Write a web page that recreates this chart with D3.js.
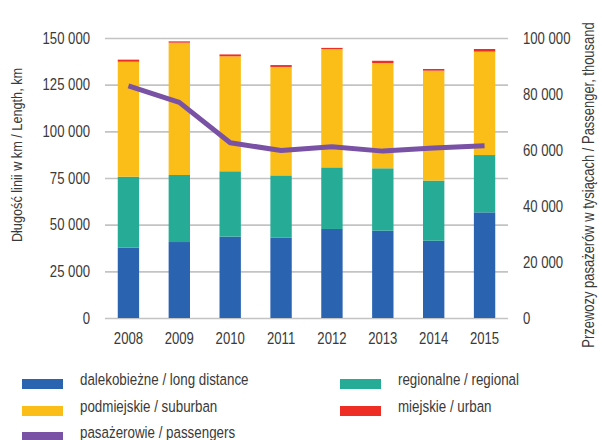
<!DOCTYPE html>
<html>
<head>
<meta charset="utf-8">
<script src="https://cdn.jsdelivr.net/npm/d3@7"></script>
<style>
  body { margin: 0; background: #fff; }
  text { font-family: "Liberation Sans", Arial, sans-serif; fill: #3a3a3a; }
</style>
</head>
<body>
<script>
//-----------------Data----------------

const years = ["2008", "2009", "2010", "2011", "2012", "2013", "2014", "2015"];
const longDistance = [37700, 40700, 43600, 43000, 47700, 46800, 41400, 56600];
const regional = [38000, 35900, 35000, 33400, 33000, 33400, 32200, 30700];
const suburban = [61600, 70900, 61600, 58100, 63400, 56400, 58900, 55400];
const urban = [1100, 700, 1000, 1000, 600, 1200, 900, 1400];
const passengers = [82900, 77000, 62600, 59800, 61200, 59600, 60700, 61500];

const leftTicks = [0, 25000, 50000, 75000, 100000, 125000, 150000];
const rightTicks = [0, 20000, 40000, 60000, 80000, 100000];

const seriesNames = ["dalekobieżne / long distance", "regionalne / regional", "podmiejskie / suburban", "miejskie / urban"];
const seriesColors = ["#2a64b0", "#26ab96", "#fbbd17", "#ee2d25"];
const lineName = "pasażerowie / passengers";
const lineColor = "#7a52a5";

//-----------------Main svg----------------

const width = 602;
const height = 440;

const svg = d3.select("body").append("svg").attr("width", width).attr("height", height);

const x = d3.scaleBand().domain(years).range([103, 510]).paddingInner(0.58).paddingOuter(0.29);
const yLeft = d3.scaleLinear().domain([0, 150000]).range([318, 38]);
const yRight = d3.scaleLinear().domain([0, 100000]).range([318, 38]);

const fmt = (d) => d3.format(",")(d).replace(/,/g, " ");

//-----------------Axes and grid----------------

const gridLeft = 105;
const gridRight = 508;

svg
  .append("g")
  .attr("transform", `translate(${gridLeft},0)`)
  .call(d3.axisLeft(yLeft).tickValues(leftTicks).tickFormat(fmt).tickSize(-(gridRight - gridLeft)).tickPadding(15))
  .call((g) => g.select(".domain").remove())
  .call((g) => g.selectAll("line").attr("stroke", "#c3c3c3").attr("stroke-width", 1.6))
  .call((g) => g.selectAll("text").style("font-size", "16px").attr("fill", "#3a3a3a"));

svg
  .append("g")
  .attr("transform", `translate(${gridRight},0)`)
  .call(d3.axisRight(yRight).tickValues(rightTicks).tickFormat(fmt).tickSize(0).tickPadding(15))
  .call((g) => g.select(".domain").remove())
  .call((g) => g.selectAll("text").style("font-size", "16px").attr("fill", "#3a3a3a"));

svg
  .append("g")
  .attr("transform", "translate(0,318)")
  .call(d3.axisBottom(x).tickSize(0).tickPadding(15))
  .call((g) => g.select(".domain").remove())
  .call((g) => g.selectAll("text").style("font-size", "16px").attr("fill", "#3a3a3a"));

//-----------------Stacked bars----------------

const rows = years.map((year, i) => ({
  year: year,
  s0: longDistance[i],
  s1: regional[i],
  s2: suburban[i],
  s3: urban[i],
}));

const stack = d3.stack().keys(["s0", "s1", "s2", "s3"])(rows);

svg
  .append("g")
  .selectAll("g")
  .data(stack)
  .enter()
  .append("g")
  .attr("fill", (d, i) => seriesColors[i])
  .selectAll("rect")
  .data((d) => d)
  .enter()
  .append("rect")
  .attr("x", (d) => x(d.data.year))
  .attr("width", x.bandwidth())
  .attr("y", (d) => yLeft(d[1]))
  .attr("height", (d) => yLeft(d[0]) - yLeft(d[1]));

//-----------------Passenger line----------------

const line = d3
  .line()
  .x((d, i) => x(years[i]) + x.bandwidth() / 2)
  .y((d) => yRight(d));

svg
  .append("path")
  .datum(passengers)
  .attr("d", line)
  .attr("fill", "none")
  .attr("stroke", lineColor)
  .attr("stroke-width", 5)
  .attr("stroke-linejoin", "round");

//-----------------Legend----------------

const legendItems = [
  { name: seriesNames[0], color: seriesColors[0], col: 0, row: 0 },
  { name: seriesNames[1], color: seriesColors[1], col: 1, row: 0 },
  { name: seriesNames[2], color: seriesColors[2], col: 0, row: 1 },
  { name: seriesNames[3], color: seriesColors[3], col: 1, row: 1 },
  { name: lineName, color: lineColor, col: 0, row: 2 },
];

const legend = svg.append("g");
const colX = [22, 340];
const rowY = [384, 411, 437];

legendItems.forEach((item) => {
  legend
    .append("rect")
    .attr("x", colX[item.col])
    .attr("y", rowY[item.row] - 5)
    .attr("width", 41)
    .attr("height", 10)
    .attr("fill", item.color);
  legend
    .append("text")
    .text(item.name)
    .attr("x", colX[item.col] + 58)
    .attr("y", rowY[item.row] - 5)
    .attr("dy", "0.35em")
    .style("font-size", "16.3px");
});

//-----------------Narrow type (Arial Narrow look)----------------

svg.selectAll("text").each(function () {
  const w = this.getComputedTextLength();
  d3.select(this).attr("textLength", w * 0.82).attr("lengthAdjust", "spacingAndGlyphs");
});

//-----------------Axis titles (narrowed by scale)----------------

svg
  .append("text")
  .text("Długość linii w km / Length, km")
  .attr("transform", "translate(22,155) rotate(-90) scale(0.82,1)")
  .style("text-anchor", "middle")
  .style("font-size", "15.5px");

svg
  .append("text")
  .text("Przewozy pasażerów w tysiącach / Passenger, thousand")
  .attr("transform", "translate(594,185) rotate(-90) scale(0.82,1)")
  .style("text-anchor", "middle")
  .style("font-size", "15.8px");
</script>
</body>
</html>
